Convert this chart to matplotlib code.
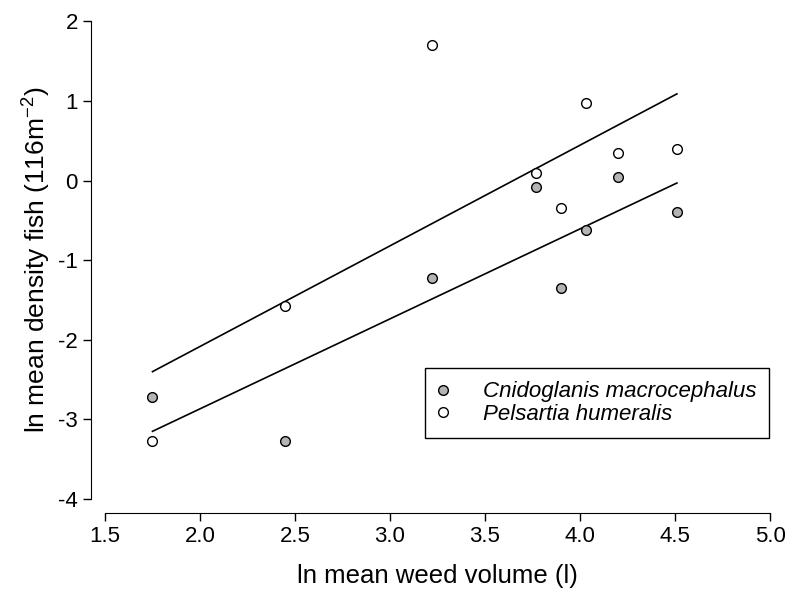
import matplotlib
matplotlib.use("Agg")
import matplotlib.pyplot as plt
from matplotlib.lines import Line2D

plt.rcParams['font.family'] = ['Liberation Sans', 'DejaVu Sans']
plt.rcParams['axes.unicode_minus'] = False
plt.rcParams['mathtext.fontset'] = 'custom'
plt.rcParams['mathtext.rm'] = 'Liberation Sans'

# ln mean weed volume per site
weed = [1.75, 2.45, 3.22, 3.77, 3.90, 4.03, 4.20, 4.51]

# ln mean density of fish
cnido = [-2.72, -3.27, -1.22, -0.08, -1.35, -0.62, 0.04, -0.40]
pels = [-3.27, -1.58, 1.70, 0.09, -0.35, 0.98, 0.35, 0.40]

# regression lines (end points)
line_x = [1.75, 4.51]
cnido_line = [-3.15, -0.03]
pels_line = [-2.40, 1.09]

grey = '#b4b4b4'

fig = plt.figure(figsize=(7.87, 5.91), dpi=100)
ax = fig.add_axes([0.1334, 0.1557, 0.845, 0.808])

ax.plot(line_x, pels_line, color='black', lw=1.2)
ax.plot(line_x, cnido_line, color='black', lw=1.2)
ax.plot(weed, cnido, 'o', ms=7, mfc=grey, mec='black', mew=1, ls='none')
ax.plot(weed, pels, 'o', ms=7, mfc='white', mec='black', mew=1, ls='none')

ax.set_xlim(1.5, 5.0)
ax.set_ylim(-4, 2)
ax.set_xticks([1.5, 2.0, 2.5, 3.0, 3.5, 4.0, 4.5, 5.0])
ax.set_xticklabels(['1.5', '2.0', '2.5', '3.0', '3.5', '4.0', '4.5', '5.0'])
ax.set_yticks([-4, -3, -2, -1, 0, 1, 2])

for s in ['top', 'right']:
    ax.spines[s].set_visible(False)
ax.spines['left'].set_position(('outward', 10))
ax.spines['bottom'].set_position(('outward', 10))
ax.tick_params(labelsize=16, length=6, width=1, direction='out')

ax.set_xlabel('ln mean weed volume (l)', fontsize=18.5, labelpad=12)
ax.set_ylabel('ln mean density fish (116m$^{\\mathrm{-2}}$)', fontsize=19, labelpad=4)

handles = [
    Line2D([], [], marker='o', ls='none', ms=7, mfc=grey, mec='black'),
    Line2D([], [], marker='o', ls='none', ms=7, mfc='white', mec='black'),
]
leg = ax.legend(handles, ['Cnidoglanis macrocephalus', 'Pelsartia humeralis'],
                loc='upper left', bbox_to_anchor=(0.481, 0.274),
                prop={'style': 'italic', 'size': 16}, fancybox=False,
                edgecolor='black', framealpha=1, handletextpad=1.6,
                handlelength=0.4, labelspacing=0.05, borderpad=0.6,
                borderaxespad=0)
leg.get_frame().set_linewidth(1)

fig.savefig('out.png', dpi=100)
